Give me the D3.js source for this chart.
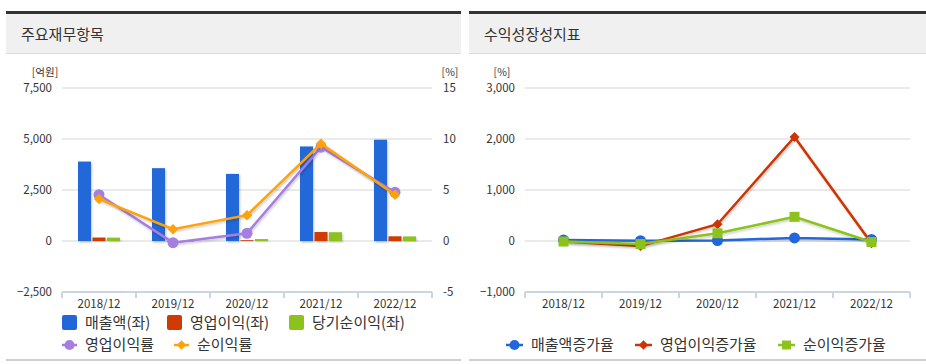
<!DOCTYPE html>
<html>
<head>
<meta charset="utf-8">
<script src="https://cdn.jsdelivr.net/npm/d3@7"></script>
<style>
  body { margin: 0; background: #fff; }
  svg { display: block; font-family: "Noto Sans CJK KR", "Noto Sans", sans-serif; }
</style>
</head>
<body>
<div id="chart"></div>
<script>
// data
const years = ["2018/12", "2019/12", "2020/12", "2021/12", "2022/12"];
const sales = [3895, 3570, 3290, 4635, 4965];
const opIncome = [170, -25, 40, 440, 230];
const netIncome = [165, -35, 95, 430, 225];
const opMargin = [4.54, -0.16, 0.76, 9.2, 4.77];
const netMargin = [4.11, 1.15, 2.53, 9.54, 4.54];
const leftTicks = [-2500, 0, 2500, 5000, 7500];
const rightTicks = [-5, 0, 5, 10, 15];

const salesGrowth = [20, 5, 10, 60, 30];
const opGrowth = [-8, -100, 329, 2040, -45];
const netGrowth = [-10, -60, 151, 474, -20];
const growthTicks = [-1000, 0, 1000, 2000, 3000];

const barSeries = [
    {name: "매출액(좌)", values: sales, color: "#2167d9"},
    {name: "영업이익(좌)", values: opIncome, color: "#cf3a02"},
    {name: "당기순이익(좌)", values: netIncome, color: "#8cc21c"}
];
const marginSeries = [
    {name: "영업이익률", values: opMargin, color: "#a57ee0", marker: "circle"},
    {name: "순이익률", values: netMargin, color: "#ffa20a", marker: "diamond"}
];
const growthSeries = [
    {name: "매출액증가율", values: salesGrowth, color: "#2167d9", marker: "circle"},
    {name: "영업이익증가율", values: opGrowth, color: "#cc3503", marker: "diamond"},
    {name: "순이익증가율", values: netGrowth, color: "#8cc21c", marker: "square"}
];

const W = 926, H = 364;
const plotTop = 88, plotBottom = 292;
const textColor = "#333";

var svg = d3.select("#chart").append("svg")
    .attr("width", W)
    .attr("height", H);

var defs = svg.append("defs");
defs.append("filter")
    .attr("id", "shadow")
    .attr("x", "-20%").attr("y", "-20%")
    .attr("width", "140%").attr("height", "140%")
    .append("feDropShadow")
    .attr("dx", 1).attr("dy", 1.5)
    .attr("stdDeviation", 1)
    .attr("flood-color", "#000")
    .attr("flood-opacity", 0.22);

// diamond = square turned 45 degrees, like the reference markers
function symbolFor(kind, size) {
    var type = kind === "circle" ? d3.symbolCircle : d3.symbolSquare;
    return d3.symbol().type(type).size(size)();
}
function markerTransform(kind, x, y) {
    return "translate(" + x + "," + y + ")" + (kind === "diamond" ? " rotate(45)" : "");
}

function panel(x0, x1, title) {
    var g = svg.append("g");
    g.append("rect")
        .attr("x", x0).attr("y", 13)
        .attr("width", x1 - x0).attr("height", 41)
        .attr("fill", "#f0f0f0");
    g.append("rect")
        .attr("x", x0).attr("y", 11)
        .attr("width", x1 - x0).attr("height", 3)
        .attr("fill", "#333");
    g.append("rect")
        .attr("x", x0).attr("y", 53)
        .attr("width", x1 - x0).attr("height", 1)
        .attr("fill", "#dcdcdc");
    g.append("rect")
        .attr("x", x0).attr("y", 359)
        .attr("width", x1 - x0).attr("height", 2)
        .attr("fill", "#cfcfcf");
    g.append("text")
        .attr("x", x0 + 15).attr("y", 40)
        .attr("font-size", 15)
        .attr("fill", textColor)
        .text(title);
}

function gridAndAxis(g, x, y, ticks, labelX, fmt) {
    g.selectAll(".grid")
        .data(ticks)
        .enter().append("line")
        .attr("x1", x.range()[0]).attr("x2", x.range()[1])
        .attr("y1", d => y(d)).attr("y2", d => y(d))
        .attr("stroke", "#e3e3e3")
        .attr("stroke-width", 1.5);
    g.selectAll(".ylab")
        .data(ticks)
        .enter().append("text")
        .attr("x", labelX)
        .attr("y", d => y(d))
        .attr("dy", "0.35em")
        .attr("text-anchor", "end")
        .attr("font-size", 11.5)
        .attr("fill", textColor)
        .text(fmt);

    // category axis at the bottom
    var axis = g.append("g")
        .attr("transform", "translate(0," + plotBottom + ")")
        .call(d3.axisBottom(x).tickSize(0).tickPadding(8));
    axis.select(".domain").remove();
    axis.selectAll("text")
        .attr("font-size", 11.5)
        .attr("fill", textColor)
        .attr("font-family", "\"Noto Sans CJK KR\", sans-serif");
    g.append("line")
        .attr("x1", x.range()[0]).attr("x2", x.range()[1])
        .attr("y1", plotBottom).attr("y2", plotBottom)
        .attr("stroke", "#c9d5e2").attr("stroke-width", 2);
    var edges = x.domain().map(d => x(d)).concat([x.range()[1]]);
    g.selectAll(".xtick")
        .data(edges)
        .enter().append("line")
        .attr("x1", d => d).attr("x2", d => d)
        .attr("y1", plotBottom).attr("y2", plotBottom + 6)
        .attr("stroke", "#c9d5e2").attr("stroke-width", 2);
}

function drawLine(g, x, y, s, markerSize) {
    var line = d3.line()
        .x((d, i) => x(years[i]) + x.bandwidth() / 2)
        .y(d => y(d));
    g.append("path")
        .datum(s.values)
        .attr("d", line)
        .attr("fill", "none")
        .attr("stroke", s.color)
        .attr("stroke-width", 2.5)
        .attr("filter", "url(#shadow)");
    g.selectAll(null)
        .data(s.values)
        .enter().append("path")
        .attr("d", symbolFor(s.marker, markerSize))
        .attr("transform", (d, i) => markerTransform(s.marker, x(years[i]) + x.bandwidth() / 2, y(d)))
        .attr("fill", s.color);
}

// ---------- left chart: 주요재무항목 ----------
panel(6, 461, "주요재무항목");

var xL = d3.scaleBand().domain(years).range([62, 432]);
var yL = d3.scaleLinear().domain([-2500, 7500]).range([plotBottom, plotTop]);
var yR = d3.scaleLinear().domain([-5, 15]).range([plotBottom, plotTop]);
var inner = d3.scaleBand().domain(barSeries.map(s => s.name)).range([-21, 21]).paddingInner(0.1);

var left = svg.append("g");
gridAndAxis(left, xL, yL, leftTicks, 52, d3.format(","));
left.selectAll(".rlab")
    .data(rightTicks)
    .enter().append("text")
    .attr("x", 443).attr("y", d => yR(d))
    .attr("dy", "0.35em")
    .attr("font-size", 11.5)
    .attr("fill", textColor)
    .text(d => d);
left.append("text")
    .attr("x", 45).attr("y", 76)
    .attr("text-anchor", "middle")
    .attr("font-size", 10.5)
    .attr("fill", textColor)
    .text("[억원]");
left.append("text")
    .attr("x", 450).attr("y", 76)
    .attr("text-anchor", "middle")
    .attr("font-size", 10.5)
    .attr("fill", textColor)
    .text("[%]");

barSeries.forEach(s => {
    left.selectAll(null)
        .data(s.values)
        .enter().append("rect")
        .attr("x", (d, i) => xL(years[i]) + xL.bandwidth() / 2 + inner(s.name))
        .attr("y", d => yL(Math.max(0, d)))
        .attr("width", inner.bandwidth())
        .attr("height", d => Math.abs(yL(d) - yL(0)))
        .attr("fill", s.color)
        .attr("filter", "url(#shadow)");
});
marginSeries.forEach(s => drawLine(left, xL, yR, s, s.marker === "circle" ? 95 : 55));

// legend
var legL = svg.append("g").attr("font-size", 15).attr("fill", textColor);
var legRow1 = [62, 167, 289];
barSeries.forEach((s, i) => {
    legL.append("rect")
        .attr("x", legRow1[i]).attr("y", 315)
        .attr("width", 15).attr("height", 15)
        .attr("rx", 2)
        .attr("fill", s.color);
    legL.append("text")
        .attr("x", legRow1[i] + 23).attr("y", 328)
        .text(s.name);
});
var legRow2 = [62, 174];
marginSeries.forEach((s, i) => {
    legL.append("line")
        .attr("x1", legRow2[i]).attr("x2", legRow2[i] + 15)
        .attr("y1", 345).attr("y2", 345)
        .attr("stroke", s.color).attr("stroke-width", 2.5);
    legL.append("path")
        .attr("d", symbolFor(s.marker, s.marker === "circle" ? 80 : 45))
        .attr("transform", markerTransform(s.marker, legRow2[i] + 7.5, 345))
        .attr("fill", s.color);
    legL.append("text")
        .attr("x", legRow2[i] + 23).attr("y", 350)
        .text(s.name);
});

// ---------- right chart: 수익성장성지표 ----------
panel(469, 926, "수익성장성지표");

var xG = d3.scaleBand().domain(years).range([525, 910]);
var yG = d3.scaleLinear().domain([-1000, 3000]).range([plotBottom, plotTop]);

var right = svg.append("g");
gridAndAxis(right, xG, yG, growthTicks, 515, d3.format(","));
right.append("text")
    .attr("x", 502).attr("y", 76)
    .attr("text-anchor", "middle")
    .attr("font-size", 10.5)
    .attr("fill", textColor)
    .text("[%]");

growthSeries.forEach(s => drawLine(right, xG, yG, s, s.marker === "circle" ? 95 : (s.marker === "square" ? 100 : 50)));

var legR = svg.append("g").attr("font-size", 15).attr("fill", textColor);
var legRowR = [506, 635, 778];
growthSeries.forEach((s, i) => {
    legR.append("line")
        .attr("x1", legRowR[i]).attr("x2", legRowR[i] + 17)
        .attr("y1", 345).attr("y2", 345)
        .attr("stroke", s.color).attr("stroke-width", 2.5);
    legR.append("path")
        .attr("d", symbolFor(s.marker, s.marker === "circle" ? 80 : (s.marker === "square" ? 80 : 45)))
        .attr("transform", markerTransform(s.marker, legRowR[i] + 8.5, 345))
        .attr("fill", s.color);
    legR.append("text")
        .attr("x", legRowR[i] + 25).attr("y", 350)
        .text(s.name);
});
</script>
</body>
</html>
